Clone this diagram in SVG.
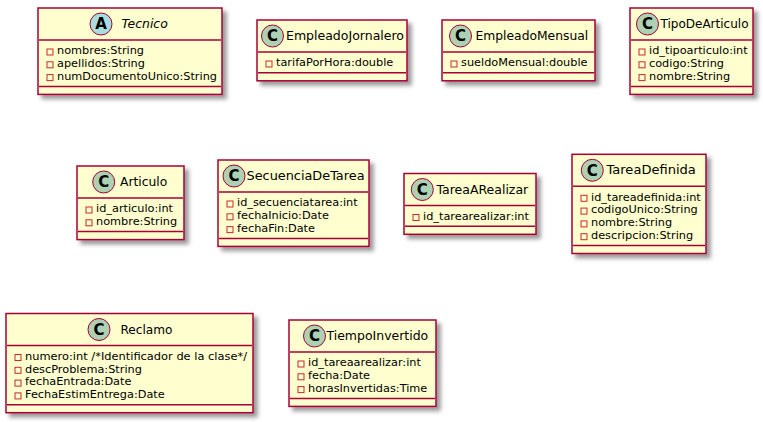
<svg xmlns="http://www.w3.org/2000/svg" width="763" height="422" viewBox="0 0 763 422">
<defs>
<filter id="shadow" x="-1" y="-1" width="300%" height="300%">
<feGaussianBlur in="SourceAlpha" result="b" stdDeviation="2"/>
<feColorMatrix in="b" result="b2" type="matrix" values="0 0 0 0 0  0 0 0 0 0  0 0 0 0 0  0 0 0 .4 0"/>
<feOffset dx="4" dy="4" in="b2" result="b3"/>
<feBlend in="SourceGraphic" in2="b3" mode="normal"/>
</filter>
<style>
.box{fill:#FEFECE;stroke:#A80036;stroke-width:1.5;filter:url(#shadow)}
.sep{stroke:#A80036;stroke-width:1.5}
.circ{fill:#ADD1B2;stroke:#A80036;stroke-width:1}
.abs{fill:#A9DCDF}
.glyph{font-family:"DejaVu Sans",sans-serif;font-weight:bold;font-size:15px;text-anchor:middle;fill:#000}
.name{font-family:"DejaVu Sans",sans-serif;font-size:12px;fill:#000}
.ital{font-style:italic}
.attr{font-family:"DejaVu Sans",sans-serif;font-size:11.3px;fill:#000}
.priv{fill:none;stroke:#C82930;stroke-width:1}
</style>
</defs>
<rect width="763" height="422" fill="#FFFFFF"/>

<g id="Tecnico" transform="translate(38,8)">
<rect class="box" x="0" y="0" width="184" height="86.4"/>
<circle class="circ abs" cx="63" cy="16" r="11"/>
<text class="glyph" x="63" y="21.4">A</text>
<text class="name ital" x="83.5" y="20.2" textLength="46.3" lengthAdjust="spacingAndGlyphs">Tecnico</text>
<line class="sep" x1="1" y1="32" x2="183" y2="32"/>
<rect class="priv" x="9" y="41" width="6" height="6"/>
<text class="attr" x="19" y="46.3">nombres:String</text>
<rect class="priv" x="9" y="53.8" width="6" height="6"/>
<text class="attr" x="19" y="59.1">apellidos:String</text>
<rect class="priv" x="9" y="66.6" width="6" height="6"/>
<text class="attr" x="19" y="71.9">numDocumentoUnico:String</text>
<line class="sep" x1="1" y1="78.4" x2="183" y2="78.4"/>
</g>

<g id="EmpleadoJornalero" transform="translate(257,20)">
<rect class="box" x="0" y="0" width="150" height="60.8"/>
<circle class="circ" cx="15.5" cy="16" r="11"/>
<text class="glyph" x="15.5" y="21.4">C</text>
<text class="name" x="29" y="20.2" textLength="118" lengthAdjust="spacingAndGlyphs">EmpleadoJornalero</text>
<line class="sep" x1="1" y1="32" x2="149" y2="32"/>
<rect class="priv" x="9" y="41" width="6" height="6"/>
<text class="attr" x="19" y="46.3">tarifaPorHora:double</text>
<line class="sep" x1="1" y1="52.8" x2="149" y2="52.8"/>
</g>

<g id="EmpleadoMensual" transform="translate(442,20)">
<rect class="box" x="0" y="0" width="153" height="60.8"/>
<circle class="circ" cx="18.5" cy="16" r="11"/>
<text class="glyph" x="18.5" y="21.4">C</text>
<text class="name" x="33.5" y="20.2" textLength="112.7" lengthAdjust="spacingAndGlyphs">EmpleadoMensual</text>
<line class="sep" x1="1" y1="32" x2="152" y2="32"/>
<rect class="priv" x="9" y="41" width="6" height="6"/>
<text class="attr" x="19" y="46.3">sueldoMensual:double</text>
<line class="sep" x1="1" y1="52.8" x2="152" y2="52.8"/>
</g>

<g id="TipoDeArticulo" transform="translate(630,8)">
<rect class="box" x="0" y="0" width="123" height="86.4"/>
<circle class="circ" cx="17.5" cy="16" r="11"/>
<text class="glyph" x="17.5" y="21.4">C</text>
<text class="name" x="30.5" y="20.2" textLength="88" lengthAdjust="spacingAndGlyphs">TipoDeArticulo</text>
<line class="sep" x1="1" y1="32" x2="122" y2="32"/>
<rect class="priv" x="9" y="41" width="6" height="6"/>
<text class="attr" x="19" y="46.3">id_tipoarticulo:int</text>
<rect class="priv" x="9" y="53.8" width="6" height="6"/>
<text class="attr" x="19" y="59.1">codigo:String</text>
<rect class="priv" x="9" y="66.6" width="6" height="6"/>
<text class="attr" x="19" y="71.9">nombre:String</text>
<line class="sep" x1="1" y1="78.4" x2="122" y2="78.4"/>
</g>

<g id="Articulo" transform="translate(77,166)">
<rect class="box" x="0" y="0" width="107" height="73.6"/>
<circle class="circ" cx="26.7" cy="16" r="11"/>
<text class="glyph" x="26.7" y="21.4">C</text>
<text class="name" x="43" y="20.2" textLength="47.3" lengthAdjust="spacingAndGlyphs">Articulo</text>
<line class="sep" x1="1" y1="32" x2="106" y2="32"/>
<rect class="priv" x="9" y="41" width="6" height="6"/>
<text class="attr" x="19" y="46.3">id_articulo:int</text>
<rect class="priv" x="9" y="53.8" width="6" height="6"/>
<text class="attr" x="19" y="59.1">nombre:String</text>
<line class="sep" x1="1" y1="65.6" x2="106" y2="65.6"/>
</g>

<g id="SecuenciaDeTarea" transform="translate(218,160)">
<rect class="box" x="0" y="0" width="151" height="86.4"/>
<circle class="circ" cx="16" cy="16" r="11"/>
<text class="glyph" x="16" y="21.4">C</text>
<text class="name" x="28.5" y="20.2" textLength="118" lengthAdjust="spacingAndGlyphs">SecuenciaDeTarea</text>
<line class="sep" x1="1" y1="32" x2="150" y2="32"/>
<rect class="priv" x="9" y="41" width="6" height="6"/>
<text class="attr" x="19" y="46.3">id_secuenciatarea:int</text>
<rect class="priv" x="9" y="53.8" width="6" height="6"/>
<text class="attr" x="19" y="59.1">fechaInicio:Date</text>
<rect class="priv" x="9" y="66.6" width="6" height="6"/>
<text class="attr" x="19" y="71.9">fechaFin:Date</text>
<line class="sep" x1="1" y1="78.4" x2="150" y2="78.4"/>
</g>

<g id="TareaARealizar" transform="translate(404,173.5)">
<rect class="box" x="0" y="0" width="132" height="60.8"/>
<circle class="circ" cx="18.3" cy="16" r="11"/>
<text class="glyph" x="18.3" y="21.4">C</text>
<text class="name" x="32.5" y="20.2" textLength="91.7" lengthAdjust="spacingAndGlyphs">TareaARealizar</text>
<line class="sep" x1="1" y1="32" x2="131" y2="32"/>
<rect class="priv" x="9" y="41" width="6" height="6"/>
<text class="attr" x="19" y="46.3">id_tarearealizar:int</text>
<line class="sep" x1="1" y1="52.8" x2="131" y2="52.8"/>
</g>

<g id="TareaDefinida" transform="translate(572,154.3)">
<rect class="box" x="0" y="0" width="134" height="99.2"/>
<circle class="circ" cx="20.3" cy="16" r="11"/>
<text class="glyph" x="20.3" y="21.4">C</text>
<text class="name" x="34.5" y="20.2" textLength="89.3" lengthAdjust="spacingAndGlyphs">TareaDefinida</text>
<line class="sep" x1="1" y1="32" x2="133" y2="32"/>
<rect class="priv" x="9" y="41" width="6" height="6"/>
<text class="attr" x="19" y="46.3">id_tareadefinida:int</text>
<rect class="priv" x="9" y="53.8" width="6" height="6"/>
<text class="attr" x="19" y="59.1">codigoUnico:String</text>
<rect class="priv" x="9" y="66.6" width="6" height="6"/>
<text class="attr" x="19" y="71.9">nombre:String</text>
<rect class="priv" x="9" y="79.4" width="6" height="6"/>
<text class="attr" x="19" y="84.7">descripcion:String</text>
<line class="sep" x1="1" y1="91.2" x2="133" y2="91.2"/>
</g>

<g id="Reclamo" transform="translate(6,313.5)">
<rect class="box" x="0" y="0" width="247" height="99.2"/>
<circle class="circ" cx="93" cy="16" r="11"/>
<text class="glyph" x="93" y="21.4">C</text>
<text class="name" x="114.5" y="20.2" textLength="52" lengthAdjust="spacingAndGlyphs">Reclamo</text>
<line class="sep" x1="1" y1="32" x2="246" y2="32"/>
<rect class="priv" x="9" y="41" width="6" height="6"/>
<text class="attr" x="19" y="46.3" textLength="222" lengthAdjust="spacingAndGlyphs">numero:int /*Identificador de la clase*/</text>
<rect class="priv" x="9" y="53.8" width="6" height="6"/>
<text class="attr" x="19" y="59.1">descProblema:String</text>
<rect class="priv" x="9" y="66.6" width="6" height="6"/>
<text class="attr" x="19" y="71.9">fechaEntrada:Date</text>
<rect class="priv" x="9" y="79.4" width="6" height="6"/>
<text class="attr" x="19" y="84.7">FechaEstimEntrega:Date</text>
<line class="sep" x1="1" y1="91.2" x2="246" y2="91.2"/>
</g>

<g id="TiempoInvertido" transform="translate(289,320)">
<rect class="box" x="0" y="0" width="147" height="86.4"/>
<circle class="circ" cx="25.5" cy="16" r="11"/>
<text class="glyph" x="25.5" y="21.4">C</text>
<text class="name" x="37.5" y="20.2" textLength="101.7" lengthAdjust="spacingAndGlyphs">TiempoInvertido</text>
<line class="sep" x1="1" y1="32" x2="146" y2="32"/>
<rect class="priv" x="9" y="41" width="6" height="6"/>
<text class="attr" x="19" y="46.3">id_tareaarealizar:int</text>
<rect class="priv" x="9" y="53.8" width="6" height="6"/>
<text class="attr" x="19" y="59.1">fecha:Date</text>
<rect class="priv" x="9" y="66.6" width="6" height="6"/>
<text class="attr" x="19" y="71.9">horasInvertidas:Time</text>
<line class="sep" x1="1" y1="78.4" x2="146" y2="78.4"/>
</g>

<g id="connectors"/>
</svg>
